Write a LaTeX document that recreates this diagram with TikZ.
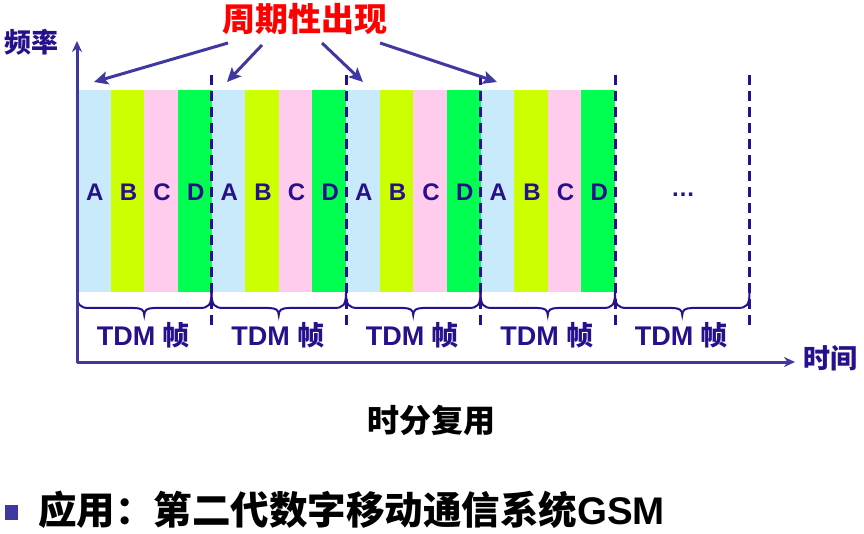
\documentclass[tikz,border=0pt]{standalone}
\usepackage{fontspec}
\setmainfont{Liberation Sans}
\newfontfamily\cjk{Noto Sans CJK SC}
\usetikzlibrary{arrows.meta}
\definecolor{cA}{RGB}{200,234,250}
\definecolor{cB}{RGB}{204,255,0}
\definecolor{cC}{RGB}{255,204,238}
\definecolor{cD}{RGB}{0,255,80}
\definecolor{ink}{RGB}{40,16,140}
\definecolor{axisc}{RGB}{64,56,160}
\begin{document}
\begin{tikzpicture}[x=1pt,y=-1pt,
  lab/.style={font=\bfseries\fontsize{24}{26}\selectfont, text=ink, inner sep=0pt},
  framelab/.style={font=\bfseries\fontsize{27}{30}\selectfont, text=ink, inner sep=0pt},
  axlab/.style={font=\bfseries\fontsize{27}{30}\selectfont\cjk, text=ink, inner sep=0pt},
  sep/.style={draw=ink, line width=3pt, dash pattern=on 10pt off 6pt},
  brc/.style={draw=ink, line width=2pt},
  axisline/.style={draw=axisc, line width=3pt, line join=round, {Stealth[length=11pt,width=10pt]}-{Stealth[length=11pt,width=10pt]}},
  callout/.style={draw=axisc, line width=3pt, -{Stealth[length=14pt,width=13pt,inset=3pt]}}
]
\useasboundingbox (0,0) rectangle (864,534);
\fill[white] (0,0) rectangle (864,534);

% colour cells and slot letters
\foreach \i in {0,...,3} {
  \foreach \j/\col/\L in {0/cA/A,1/cB/B,2/cC/C,3/cD/D} {
    \fill[\col] ({77+134.5*\i+33.625*\j},90) rectangle ({77+134.5*\i+33.625*(\j+1)},292);
    \node[lab] (L\i\L) at ({78+134.5*\i+33.625*(\j+0.5)},192) {\L};
  }
}
\node[lab, anchor=base] (dots) at (683,197) {\dots};

% dashed frame separators
\foreach \k in {1,...,5} {
  \coordinate (st\k) at ({77+134.5*\k},75);
  \coordinate (sb\k) at ({77+134.5*\k},325);
  \draw[sep] (st\k) -- (sb\k);
}

% braces and frame labels
\foreach \k in {0,...,4} {
  \pgfmathsetmacro\xa{77+134.5*\k}
  \pgfmathsetmacro\xb{\xa+134.5}
  \pgfmathsetmacro\xm{\xa+67.25}
  \draw[brc] (\xa,293) .. controls (\xa,305) and (\xa+3,308) .. (\xa+12,308)
     -- (\xm-10,308) .. controls (\xm-3,308) and (\xm,310) .. (\xm,315)
     .. controls (\xm,310) and (\xm+3,308) .. (\xm+10,308)
     -- (\xb-12,308) .. controls (\xb-3,308) and (\xb,305) .. (\xb,293);
  \node[framelab] (F\k) at (\xm-1,335) {TDM {\cjk 帧}};
}

% axes
\coordinate (O) at (77,362);
\coordinate (Ytop) at (77,41);
\coordinate (Xend) at (795,362);
\draw[axisline] (Ytop) -- (O) -- (Xend);
\node[axlab] (freq) at (32,42) {频率};
\node[axlab] (time) at (830,358) {时间};

% title and callout arrows
\node[font=\bfseries\fontsize{33}{36}\selectfont\cjk, text=red, inner sep=0pt] (title) at (305,19) {周期性出现};
\coordinate (s1) at (228,43); \coordinate (e1) at (94,82);
\coordinate (s2) at (262,45); \coordinate (e2) at (227,82);
\coordinate (s3) at (322,43); \coordinate (e3) at (363,82);
\coordinate (s4) at (380,43); \coordinate (e4) at (497,82);
\foreach \n in {1,...,4} \draw[callout] (s\n) -- (e\n);

% caption
\node[font=\bfseries\fontsize{32}{36}\selectfont\cjk, text=black, inner sep=0pt] (cap) at (431,420) {时分复用};

% bullet line
\node[fill=axisc, minimum width=13pt, minimum height=15pt, inner sep=0pt] (bullet) at (11,512) {};
\node[font=\bfseries\fontsize{38.5}{42}\selectfont, text=black, inner sep=0pt, anchor=west] (app) at (38,510) {{\cjk 应用：第二代数字移动通信系统}GSM};
\end{tikzpicture}
\end{document}
